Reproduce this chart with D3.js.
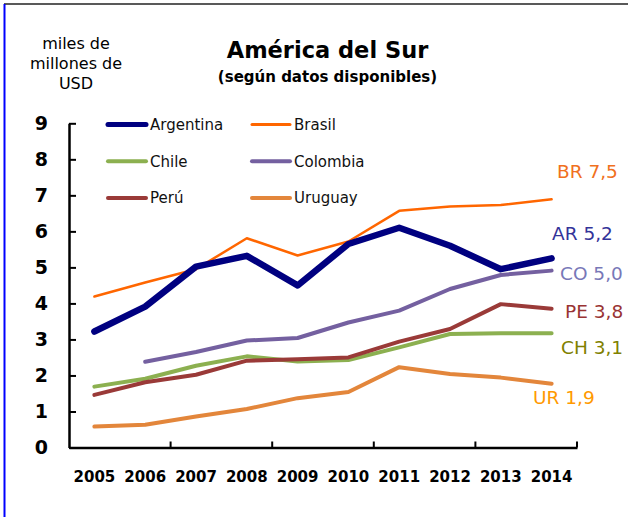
<!DOCTYPE html>
<html>
<head>
<meta charset="utf-8">
<script src="https://cdn.jsdelivr.net/npm/d3@7"></script>
<style>
  body { margin: 0; background: #fff; }
  svg { display: block; font-family: "DejaVu Sans", sans-serif; }
</style>
</head>
<body>
<div id="chart-area"></div>
<script>
const W = 628, H = 517

// data
const years = ["2005","2006","2007","2008","2009","2010","2011","2012","2013","2014"]
const yTicks = [0,1,2,3,4,5,6,7,8,9]
const argentina = [3.22, 3.91, 5.02, 5.32, 4.5, 5.65, 6.1, 5.6, 4.95, 5.25]
const brasil    = [4.19, 4.58, 4.95, 5.81, 5.33, 5.72, 6.57, 6.69, 6.73, 6.89]
const chile     = [1.69, 1.91, 2.27, 2.53, 2.39, 2.43, 2.78, 3.15, 3.17, 3.17]
const colombia  = [null, 2.38, 2.65, 2.97, 3.04, 3.47, 3.8, 4.4, 4.79, 4.91]
const peru      = [1.46, 1.81, 2.02, 2.41, 2.45, 2.5, 2.94, 3.29, 3.98, 3.85]
const uruguay   = [0.58, 0.63, 0.86, 1.07, 1.37, 1.54, 2.23, 2.04, 1.94, 1.77]
const endLabels = ["BR 7,5", "AR 5,2", "CO 5,0", "PE 3,8", "CH 3,1", "UR 1,9"]

const series = [
  { name: "Argentina", values: argentina, color: "#000080", width: 6.5, lw: 5 },
  { name: "Brasil",    values: brasil,    color: "#ff6600", width: 2.5, lw: 3 },
  { name: "Chile",     values: chile,     color: "#8cb050", width: 4,   lw: 4 },
  { name: "Colombia",  values: colombia,  color: "#7460a0", width: 4,   lw: 4 },
  { name: "Perú",      values: peru,      color: "#9a3a38", width: 4,   lw: 4 },
  { name: "Uruguay",   values: uruguay,   color: "#e3863b", width: 4,   lw: 4 }
]

const svg = d3.select("#chart-area").append("svg")
  .attr("width", W)
  .attr("height", H)

// frame
svg.append("line").attr("x1", 4).attr("x2", W).attr("y1", 4).attr("y2", 4)
  .attr("stroke", "#222").attr("stroke-width", 1.5)
svg.append("line").attr("x1", 4.5).attr("x2", 4.5).attr("y1", 4).attr("y2", H)
  .attr("stroke", "#0000ff").attr("stroke-width", 2)

const x = d3.scaleBand().domain(years).range([69, 577]).padding(0)
const y = d3.scaleLinear().domain([0, 9]).range([447.5, 123.3])
const cx = d => x(d) + x.bandwidth() / 2

// titles
svg.append("text").attr("x", 327.5).attr("y", 57.5)
  .attr("text-anchor", "middle").attr("font-size", "22.5px").attr("font-weight", "bold")
  .text("América del Sur")
svg.append("text").attr("x", 327.5).attr("y", 81.5)
  .attr("text-anchor", "middle").attr("font-size", "15px").attr("font-weight", "bold")
  .text("(según datos disponibles)")

const unit = ["miles de", "millones de", "USD"]
unit.forEach((t, i) => {
  svg.append("text").attr("x", 76).attr("y", 48.5 + i * 20)
    .attr("text-anchor", "middle").attr("font-size", "16px")
    .text(t)
})

// y axis
const yAxis = svg.append("g")
  .attr("transform", "translate(69,0)")
  .call(d3.axisLeft(y).tickValues(yTicks).tickSizeInner(-7).tickSizeOuter(0).tickPadding(21))
yAxis.select(".domain").attr("stroke", "#000").attr("stroke-width", 2.5)
yAxis.selectAll(".tick line").attr("stroke", "#000").attr("stroke-width", 2)
yAxis.selectAll(".tick text").attr("font-size", "19px").attr("font-weight", "bold")
  .attr("font-family", "DejaVu Sans").attr("fill", "#000")

// x axis
const xAxis = svg.append("g")
  .attr("transform", `translate(0,${y(0)})`)
  .call(d3.axisBottom(x).tickSize(0).tickPadding(24))
xAxis.select(".domain").attr("stroke", "#000").attr("stroke-width", 2.5)
xAxis.selectAll(".tick text").attr("font-size", "15px").attr("font-weight", "bold")
  .attr("font-family", "DejaVu Sans").attr("fill", "#000")

// tick marks every two years, at band edges
const edges = years.filter((d, i) => i % 2 === 0 && i > 0).map(d => x(d)).concat([x.range()[1]])
xAxis.selectAll(".edge").data(edges).enter().append("line")
  .attr("x1", d => d).attr("x2", d => d)
  .attr("y1", 0).attr("y2", -6)
  .attr("stroke", "#000").attr("stroke-width", 2)

// lines
const line = d3.line()
  .defined(d => d.v != null)
  .x(d => cx(d.year))
  .y(d => y(d.v))

const drawOrder = ["Uruguay", "Chile", "Perú", "Colombia", "Brasil", "Argentina"]
drawOrder.forEach(n => {
  const s = series.find(d => d.name === n)
  svg.append("path")
    .datum(years.map((yr, i) => ({ year: yr, v: s.values[i] })))
    .attr("fill", "none")
    .attr("stroke", s.color)
    .attr("stroke-width", s.width)
    .attr("stroke-linejoin", "round")
    .attr("stroke-linecap", "round")
    .attr("d", line)
})

// legend
const legend = svg.append("g")
series.forEach((s, i) => {
  const col = i % 2, row = Math.floor(i / 2)
  const lx = col === 0 ? 108 : 252
  const ly = 124.5 + row * 36.7
  legend.append("line")
    .attr("x1", lx).attr("x2", lx + 38).attr("y1", ly).attr("y2", ly)
    .attr("stroke", s.color).attr("stroke-width", s.lw).attr("stroke-linecap", "round")
  legend.append("text")
    .attr("x", lx + 42).attr("y", ly + 5.5)
    .attr("font-size", "15px").attr("fill", "#111")
    .text(s.name)
})

// end labels
const labelPos = [
  { x: 557, y: 178, color: "#f07020" },
  { x: 552, y: 240, color: "#333399" },
  { x: 560, y: 280, color: "#7878b8" },
  { x: 565, y: 318, color: "#993333" },
  { x: 561, y: 354, color: "#808000" },
  { x: 533, y: 404, color: "#ff9900" }
]
endLabels.forEach((t, i) => {
  svg.append("text")
    .attr("x", labelPos[i].x).attr("y", labelPos[i].y)
    .attr("font-size", "18.5px").attr("fill", labelPos[i].color)
    .text(t)
})
</script>
</body>
</html>
